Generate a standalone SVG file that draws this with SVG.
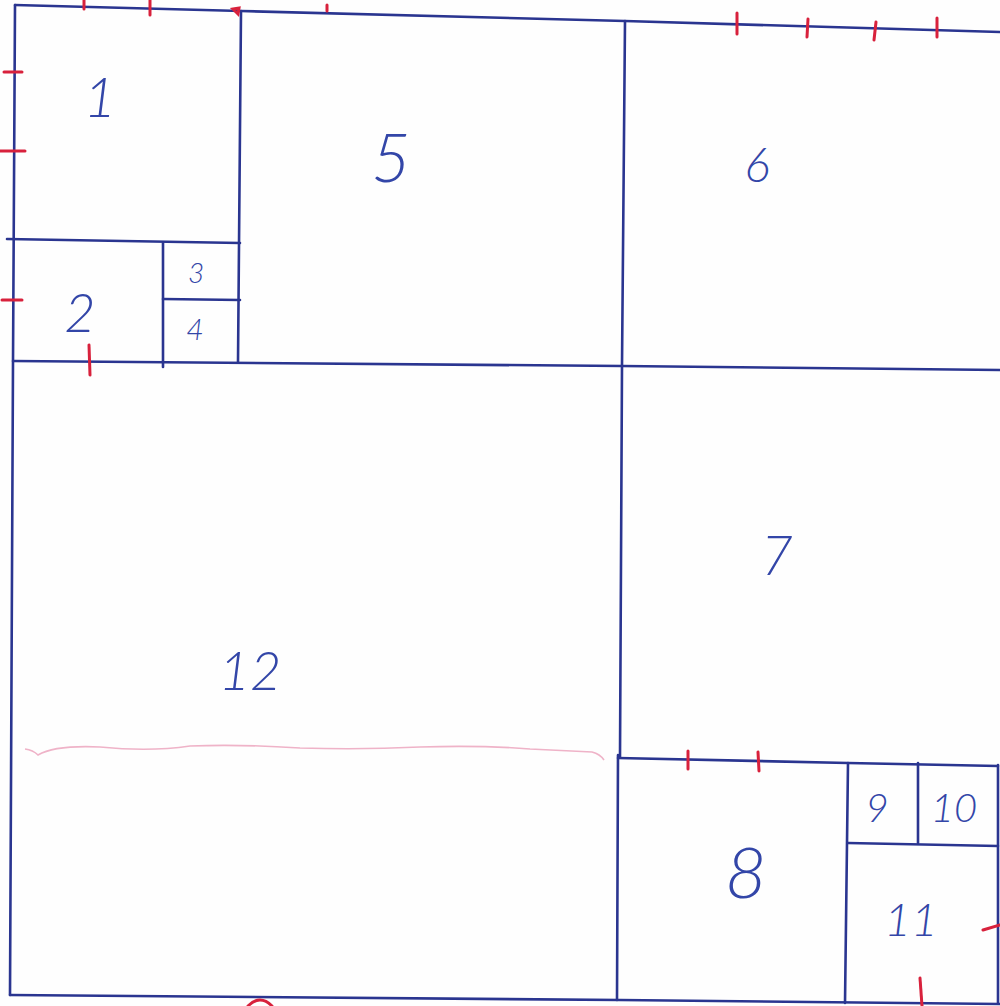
<svg xmlns="http://www.w3.org/2000/svg" width="1000" height="1006" viewBox="0 0 1000 1006">
<style>
.ln{stroke:#2a3590;stroke-width:2.6;fill:none;stroke-linecap:round}
.tk{stroke:#d8213c;stroke-width:3;fill:none;stroke-linecap:round}
.lb{font-family:Lato,"Open Sans","Liberation Sans",sans-serif;font-style:italic;font-weight:300;fill:#3346a8;text-anchor:middle}
</style>
<rect width="1000" height="1006" fill="#fefefe"/>
<g id="connectors">
<path class="ln" d="M15,5 L241,11 L625,21 L1000,32"/>
<path class="ln" d="M15,5 L13,362 L10,995"/>
<path class="ln" d="M10,995 L620,1000 L1000,1004"/>
<path class="ln" d="M998,765 L998,1003"/>
<path class="ln" d="M241,11 L238,362"/>
<path class="ln" d="M7,239 L240,243"/>
<path class="ln" d="M163,243 L163,367"/>
<path class="ln" d="M163,299 L240,300"/>
<path class="ln" d="M13,361 L622,366 L1000,370"/>
<path class="ln" d="M625,21 L622,366 L620,757"/>
<path class="ln" d="M618,755 L617,1000"/>
<path class="ln" d="M618,758 L848,763 L998,766"/>
<path class="ln" d="M848,763 L845,1003"/>
<path class="ln" d="M918,763 L918,843"/>
<path class="ln" d="M848,843 L998,846"/>
</g>
<g id="marks">
<path class="tk" d="M84,0 L84,9"/>
<path class="tk" d="M150,0 L150,15"/>
<path class="tk" d="M233,9 L239,8 L238,14 Z" stroke-width="4"/>
<path class="tk" d="M327,5 L327,11" stroke-width="2"/>
<path class="tk" d="M737,13 L737,34"/>
<path class="tk" d="M808,19 L807,37"/>
<path class="tk" d="M876,22 L874,40"/>
<path class="tk" d="M937,18 L937,37"/>
<path class="tk" d="M4,72 L22,72"/>
<path class="tk" d="M0,151 L25,151"/>
<path class="tk" d="M2,300 L22,300"/>
<path class="tk" d="M89,345 L90,375"/>
<path class="tk" d="M688,751 L688,769"/>
<path class="tk" d="M758,752 L759,771"/>
<path class="tk" d="M983,930 L1000,925"/>
<path class="tk" d="M920,978 L922,1006"/>
<path class="tk" d="M248,1006 Q260,994 272,1006" stroke-width="2.5"/>
<path d="M25,749 Q33,750 38,755 Q55,745 100,747 Q150,752 190,746 Q240,744 300,748 Q360,750 420,747 Q480,745 530,749 Q570,751 592,752 Q600,754 604,760" stroke="#efb3c8" stroke-width="1.6" fill="none"/>
</g>
<g id="n1"><text class="lb" x="100" y="117" font-size="56">1</text></g>
<g id="n2"><text class="lb" x="80" y="332" font-size="54">2</text></g>
<g id="n3"><text class="lb" x="196" y="283" font-size="28">3</text></g>
<g id="n4"><text class="lb" x="195" y="340" font-size="30">4</text></g>
<g id="n5"><text class="lb" x="391" y="182" font-size="68">5</text></g>
<g id="n6"><text class="lb" x="757" y="182" font-size="48">6</text></g>
<g id="n7"><text class="lb" x="777" y="575" font-size="55">7</text></g>
<g id="n8"><text class="lb" x="746" y="898" font-size="72">8</text></g>
<g id="n9"><text class="lb" x="877" y="822" font-size="40">9</text></g>
<g id="n10"><text class="lb" x="954" y="822" font-size="40">10</text></g>
<g id="n11"><text class="lb" x="911" y="936" font-size="46">11</text></g>
<g id="n12"><text class="lb" x="250" y="690" font-size="54">12</text></g>
</svg>
